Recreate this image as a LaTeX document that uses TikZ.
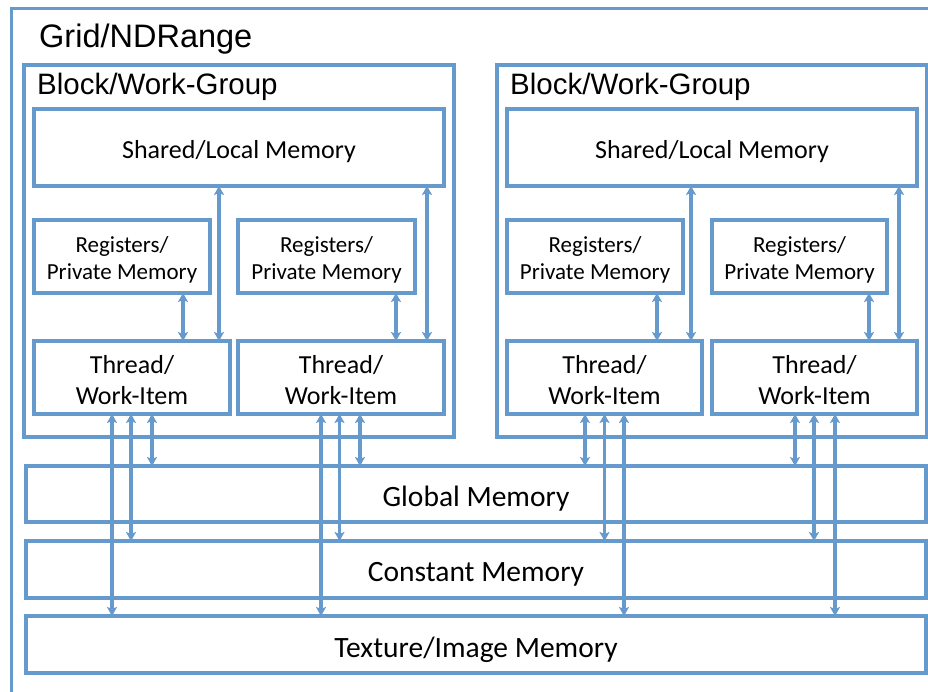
\documentclass[tikz,border=0pt]{standalone}
\usepackage{fontspec}
\setmainfont{Carlito}
\newfontfamily\titlefont{Liberation Sans}
\usetikzlibrary{arrows.meta}
\definecolor{bl}{HTML}{6699CC}
\begin{document}
\begin{tikzpicture}[x=1pt,y=-1pt,
  box/.style={draw=bl,line width=3.4pt,rectangle,inner sep=0pt,outer sep=0pt},
  txt/.style={inner sep=0pt,align=center,text=black},
  ttl/.style={anchor=west,inner sep=0pt,text=black,font=\titlefont\fontsize{29.5}{34}\selectfont},
  dbl/.style={draw=bl,line width=3.3pt,{Stealth[length=9pt,width=10pt,inset=2pt]}-{Stealth[length=9pt,width=10pt,inset=2pt]}},
  shf/.style={txt,font=\fontsize{26}{31}\selectfont},
  rgf/.style={txt,font=\fontsize{23}{27}\selectfont},
  thf/.style={txt,font=\fontsize{26}{31}\selectfont},
  gmf/.style={txt,font=\fontsize{29.5}{34}\selectfont}]
\useasboundingbox (0,0) rectangle (928,692);
\begin{scope}
\clip (0,0) rectangle (928,692);
% grid
\draw[bl,line width=3pt] (940,9) -- (11,9) -- (11,700);
\node[ttl,font=\titlefont\fontsize{32.5}{38}\selectfont] (gridlbl) at (39,39) {Grid/NDRange};
% blocks
\node[box,minimum width=430pt,minimum height=372pt] (b1) at (239,251) {};
\node[box,minimum width=430pt,minimum height=372pt] (b2) at (712,251) {};
\node[ttl] (b1lbl) at (37,87) {Block/Work-Group};
\node[ttl] (b2lbl) at (510,87) {Block/Work-Group};
% shared
\node[box,minimum width=410pt,minimum height=77pt] (sh1) at (239,147.5) {};
\node[box,minimum width=410pt,minimum height=77pt] (sh2) at (712,147.5) {};
\node[shf] (sh1t) at ([yshift=-4.5pt]sh1.center) {Shared/Local Memory};
\node[shf] (sh2t) at ([yshift=-4.5pt]sh2.center) {Shared/Local Memory};
% registers
\node[box,minimum width=176pt,minimum height=73pt] (r1) at (122,256.5) {};
\node[box,minimum width=177pt,minimum height=73pt] (r2) at (326.5,256.5) {};
\node[box,minimum width=176pt,minimum height=73pt] (r3) at (595,256.5) {};
\node[box,minimum width=175pt,minimum height=73pt] (r4) at (799.5,256.5) {};
\node[rgf] (r1t) at ([yshift=-3.5pt]r1.center) {Registers/\\Private Memory};
\node[rgf] (r2t) at ([yshift=-3.5pt]r2.center) {Registers/\\Private Memory};
\node[rgf] (r3t) at ([yshift=-3.5pt]r3.center) {Registers/\\Private Memory};
\node[rgf] (r4t) at ([yshift=-3.5pt]r4.center) {Registers/\\Private Memory};
% threads
\node[box,minimum width=196pt,minimum height=73pt] (t1) at (132,377.5) {};
\node[box,minimum width=206pt,minimum height=73pt] (t2) at (341,377.5) {};
\node[box,minimum width=195pt,minimum height=73pt] (t3) at (604.5,377.5) {};
\node[box,minimum width=205pt,minimum height=73pt] (t4) at (814.5,377.5) {};
\node[thf] (t1t) at ([yshift=-3pt]t1.center) {Thread/\\Work-Item};
\node[thf] (t2t) at ([yshift=-3pt]t2.center) {Thread/\\Work-Item};
\node[thf] (t3t) at ([yshift=-3pt]t3.center) {Thread/\\Work-Item};
\node[thf] (t4t) at ([yshift=-3pt]t4.center) {Thread/\\Work-Item};
% device memories
\node[box,minimum width=900pt,minimum height=56pt] (gm) at (476,494) {};
\node[box,minimum width=900pt,minimum height=57pt] (cm) at (476,569.5) {};
\node[box,minimum width=900pt,minimum height=57pt] (tm) at (476,644.5) {};
\node[gmf] (gmt) at ([yshift=-4.5pt]gm.center) {Global Memory};
\node[gmf] (cmt) at ([yshift=-4.5pt]cm.center) {Constant Memory};
\node[gmf] (tmt) at ([yshift=-5pt]tm.center) {Texture/Image Memory};
% registers <-> thread
\draw[dbl] ([xshift=51pt]t1.north) coordinate (a1) -- (a1 |- r1.south);
\draw[dbl] ([xshift=55pt]t2.north) coordinate (a2) -- (a2 |- r2.south);
\draw[dbl] ([xshift=52.5pt]t3.north) coordinate (a3) -- (a3 |- r3.south);
\draw[dbl] ([xshift=54.5pt]t4.north) coordinate (a4) -- (a4 |- r4.south);
% shared <-> thread
\draw[dbl] ([xshift=-11pt]t1.north east) coordinate (s1) -- (s1 |- sh1.south);
\draw[dbl] ([xshift=-17pt]t2.north east) coordinate (s2) -- (s2 |- sh1.south);
\draw[dbl] ([xshift=-11pt]t3.north east) coordinate (s3) -- (s3 |- sh2.south);
\draw[dbl] ([xshift=-18pt]t4.north east) coordinate (s4) -- (s4 |- sh2.south);
% thread <-> device memories, block 1
\draw[dbl] ([xshift=-20pt]t1.south) coordinate (p1) -- (p1 |- tm.north);
\draw[dbl] ([xshift=-1pt]t1.south) coordinate (p2) -- (p2 |- cm.north);
\draw[dbl] ([xshift=20pt]t1.south) coordinate (p3) -- (p3 |- gm.north);
\draw[dbl] ([xshift=-20pt]t2.south) coordinate (p4) -- (p4 |- tm.north);
\draw[dbl] ([xshift=-1.5pt]t2.south) coordinate (p5) -- (p5 |- cm.north);
\draw[dbl] ([xshift=19pt]t2.south) coordinate (p6) -- (p6 |- gm.north);
% block 2
\draw[dbl] ([xshift=-19.5pt]t3.south) coordinate (q1) -- (q1 |- gm.north);
\draw[dbl] ([xshift=0pt]t3.south) coordinate (q2) -- (q2 |- cm.north);
\draw[dbl] ([xshift=19.5pt]t3.south) coordinate (q3) -- (q3 |- tm.north);
\draw[dbl] ([xshift=-19.5pt]t4.south) coordinate (q4) -- (q4 |- gm.north);
\draw[dbl] ([xshift=-0.5pt]t4.south) coordinate (q5) -- (q5 |- cm.north);
\draw[dbl] ([xshift=20.5pt]t4.south) coordinate (q6) -- (q6 |- tm.north);
\end{scope}
\end{tikzpicture}
\end{document}
